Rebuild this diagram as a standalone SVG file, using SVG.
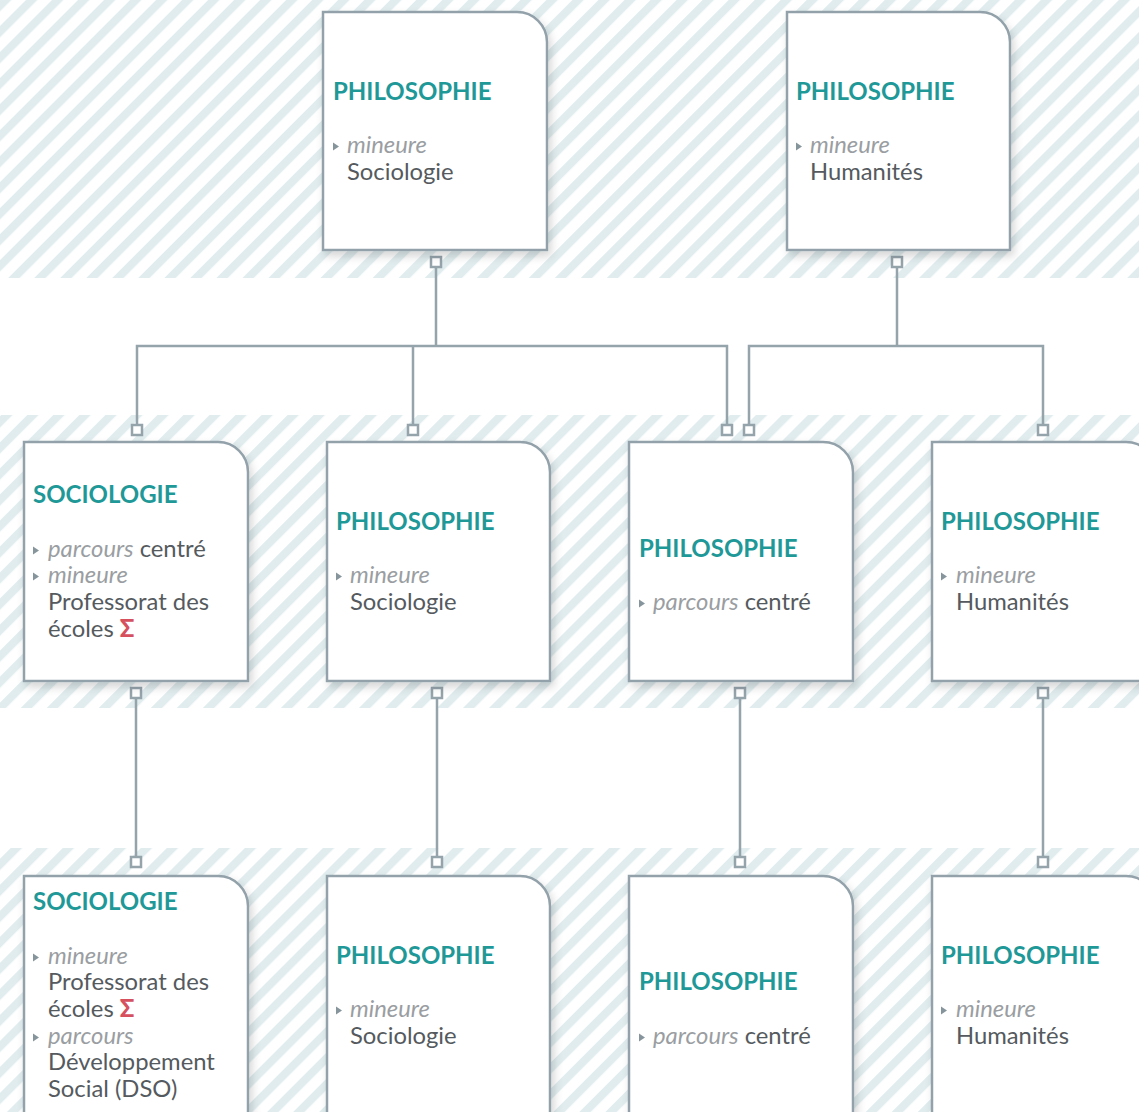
<svg xmlns="http://www.w3.org/2000/svg" width="1139" height="1112" viewBox="0 0 1139 1112">
<style>
.t{font-family:Lato,"Open Sans","Liberation Sans",sans-serif;font-weight:bold;font-size:24px;fill:#1f9898}
.b{font-family:Lato,"Open Sans","Liberation Sans",sans-serif;font-size:23.8px;fill:#555a5e}
.i{font-style:italic;fill:#9a9ea2}
.s{fill:#d6505d;font-weight:900}
.node{fill:#ffffff;stroke:#93a2aa;stroke-width:2.5;filter:url(#sh)}
.c{fill:none;stroke:#95a3ab;stroke-width:2.5}
.p{fill:#ffffff;stroke:#95a3ab;stroke-width:2.5}
.bu{fill:#86949c}
</style>
<defs>
<pattern id="hatch" patternUnits="userSpaceOnUse" width="18.4" height="18.4" patternTransform="rotate(45)">
<rect width="18.4" height="18.4" fill="#ffffff"/>
<rect width="8" height="18.4" fill="#e0ecee"/>
</pattern>
<filter id="sh" x="-10%" y="-10%" width="130%" height="130%">
<feDropShadow dx="3" dy="5" stdDeviation="4" flood-color="#000" flood-opacity="0.16"/>
</filter>
</defs>
<rect width="1139" height="1112" fill="#ffffff"/>
<rect x="0" y="0" width="1139" height="278" fill="url(#hatch)"/>
<rect x="0" y="415" width="1139" height="293" fill="url(#hatch)"/>
<rect x="0" y="848" width="1139" height="264" fill="url(#hatch)"/>

<g id="connectors">
<path class="c" d="M436,267 V346 M137,430 V346 H727 V430 M413,346 V430"/>
<path class="c" d="M897,267 V346 M749,430 V346 H1043 V430"/>
<path class="c" d="M136,699 V856 M437,699 V856 M740,699 V856 M1043,699 V856"/>
<rect class="p" x="431" y="257" width="10" height="10"/>
<rect class="p" x="892" y="257" width="10" height="10"/>
<rect class="p" x="132" y="425" width="10" height="10"/>
<rect class="p" x="408" y="425" width="10" height="10"/>
<rect class="p" x="722" y="425" width="10" height="10"/>
<rect class="p" x="744" y="425" width="10" height="10"/>
<rect class="p" x="1038" y="425" width="10" height="10"/>
<rect class="p" x="131" y="688" width="10" height="10"/>
<rect class="p" x="432" y="688" width="10" height="10"/>
<rect class="p" x="735" y="688" width="10" height="10"/>
<rect class="p" x="1038" y="688" width="10" height="10"/>
<rect class="p" x="131" y="857" width="10" height="10"/>
<rect class="p" x="432" y="857" width="10" height="10"/>
<rect class="p" x="735" y="857" width="10" height="10"/>
<rect class="p" x="1038" y="857" width="10" height="10"/>
</g>

<g id="n1">
<path class="node" d="M323,12 H517 A30,30 0 0 1 547,42 V250 H323 Z"/>
<text class="t" x="333" y="100">PHILOSOPHIE</text>
<polygon class="bu" points="333,142.5 339,146.5 333,150.5"/>
<text class="b i" x="347" y="153">mineure</text>
<text class="b" x="347" y="180">Sociologie</text>
</g>
<g id="n2">
<path class="node" d="M787,12 H980 A30,30 0 0 1 1010,42 V250 H787 Z"/>
<text class="t" x="796" y="100">PHILOSOPHIE</text>
<polygon class="bu" points="796,142.5 802,146.5 796,150.5"/>
<text class="b i" x="810" y="153">mineure</text>
<text class="b" x="810" y="180">Humanités</text>
</g>

<g id="n3">
<path class="node" d="M24,442 H218 A30,30 0 0 1 248,472 V681 H24 Z"/>
<text class="t" x="33" y="503">SOCIOLOGIE</text>
<polygon class="bu" points="33,546.5 39,550.5 33,554.5"/>
<text class="b" x="48" y="557"><tspan class="i">parcours</tspan> centré</text>
<polygon class="bu" points="33,572.5 39,576.5 33,580.5"/>
<text class="b i" x="48" y="583">mineure</text>
<text class="b" x="48" y="610">Professorat des</text>
<text class="b" x="48" y="637">écoles <tspan class="s">Σ</tspan></text>
</g>
<g id="n4">
<path class="node" d="M327,442 H520 A30,30 0 0 1 550,472 V681 H327 Z"/>
<text class="t" x="336" y="530">PHILOSOPHIE</text>
<polygon class="bu" points="336,572.5 342,576.5 336,580.5"/>
<text class="b i" x="350" y="583">mineure</text>
<text class="b" x="350" y="610">Sociologie</text>
</g>
<g id="n5">
<path class="node" d="M629,442 H823 A30,30 0 0 1 853,472 V681 H629 Z"/>
<text class="t" x="639" y="557">PHILOSOPHIE</text>
<polygon class="bu" points="639,599.5 645,603.5 639,607.5"/>
<text class="b" x="653" y="610"><tspan class="i">parcours</tspan> centré</text>
</g>
<g id="n6">
<path class="node" d="M932,442 H1126 A30,30 0 0 1 1156,472 V681 H932 Z"/>
<text class="t" x="941" y="530">PHILOSOPHIE</text>
<polygon class="bu" points="941,572.5 947,576.5 941,580.5"/>
<text class="b i" x="956" y="583">mineure</text>
<text class="b" x="956" y="610">Humanités</text>
</g>

<g id="n7">
<path class="node" d="M24,876 H218 A30,30 0 0 1 248,906 V1130 H24 Z"/>
<text class="t" x="33" y="910">SOCIOLOGIE</text>
<polygon class="bu" points="33,953.5 39,957.5 33,961.5"/>
<text class="b i" x="48" y="964">mineure</text>
<text class="b" x="48" y="990">Professorat des</text>
<text class="b" x="48" y="1017">écoles <tspan class="s">Σ</tspan></text>
<polygon class="bu" points="33,1033.5 39,1037.5 33,1041.5"/>
<text class="b i" x="48" y="1044">parcours</text>
<text class="b" x="48" y="1070">Développement</text>
<text class="b" x="48" y="1097">Social (DSO)</text>
</g>
<g id="n8">
<path class="node" d="M327,876 H520 A30,30 0 0 1 550,906 V1130 H327 Z"/>
<text class="t" x="336" y="964">PHILOSOPHIE</text>
<polygon class="bu" points="336,1006.5 342,1010.5 336,1014.5"/>
<text class="b i" x="350" y="1017">mineure</text>
<text class="b" x="350" y="1044">Sociologie</text>
</g>
<g id="n9">
<path class="node" d="M629,876 H823 A30,30 0 0 1 853,906 V1130 H629 Z"/>
<text class="t" x="639" y="990">PHILOSOPHIE</text>
<polygon class="bu" points="639,1033.5 645,1037.5 639,1041.5"/>
<text class="b" x="653" y="1044"><tspan class="i">parcours</tspan> centré</text>
</g>
<g id="n10">
<path class="node" d="M932,876 H1126 A30,30 0 0 1 1156,906 V1130 H932 Z"/>
<text class="t" x="941" y="964">PHILOSOPHIE</text>
<polygon class="bu" points="941,1006.5 947,1010.5 941,1014.5"/>
<text class="b i" x="956" y="1017">mineure</text>
<text class="b" x="956" y="1044">Humanités</text>
</g>
</svg>
